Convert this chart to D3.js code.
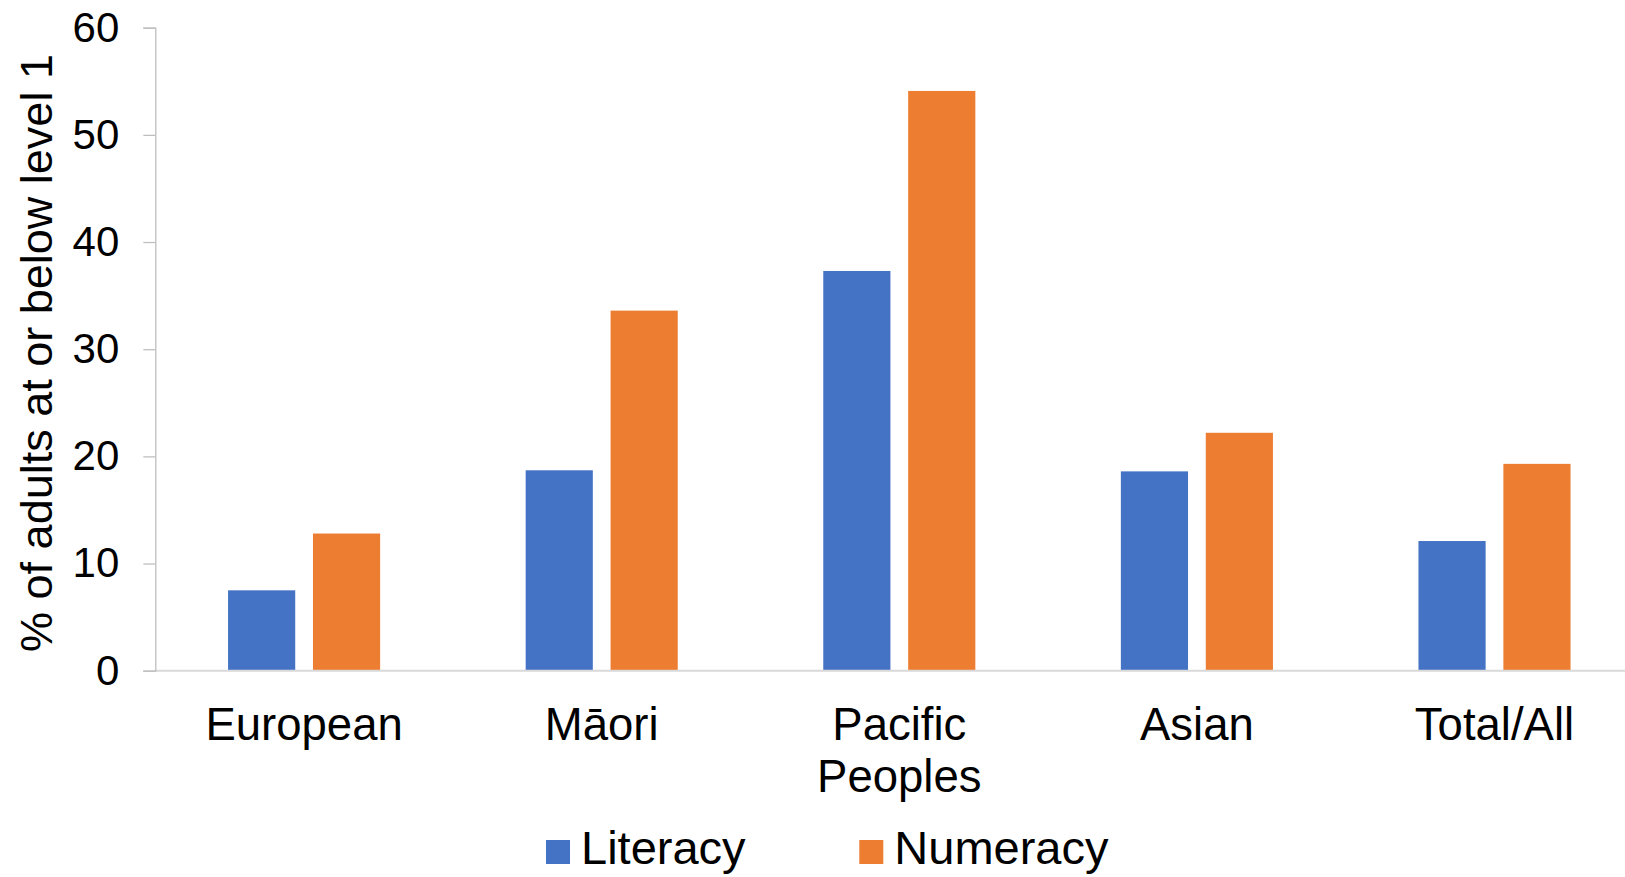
<!DOCTYPE html>
<html>
<head>
<meta charset="utf-8">
<script src="https://cdn.jsdelivr.net/npm/d3@7"></script>
<style>
  html, body { margin: 0; padding: 0; background: #ffffff; overflow: hidden; }
  svg { display: block; font-family: "Liberation Sans", Arial, sans-serif; }
</style>
</head>
<body>
<svg id="chart" width="1625" height="877"></svg>
<script>
// Share of adults at or below level 1, by ethnic group
const categories = ["European", "Māori", "Pacific Peoples", "Asian", "Total/All"];
const seriesNames = ["Literacy", "Numeracy"];
const literacy = [7.5, 18.7, 37.3, 18.6, 12.1];
const numeracy = [12.8, 33.6, 54.1, 22.2, 19.3];
const yTicks = [0, 10, 20, 30, 40, 50, 60];
const colors = ["#4472C4", "#ED7D31"];

const rows = categories.map((c, i) => ({ category: c, values: [literacy[i], numeracy[i]] }));

const svg = d3.select("#chart");
const plot = { left: 155.3, top: 27.7, bottom: 670.7, right: 1643.3 };

const x0 = d3.scaleBand().domain(categories).range([plot.left, plot.right])
  .paddingInner(0.489).paddingOuter(0.2445);
const x1 = d3.scaleBand().domain(seriesNames).range([0, x0.bandwidth()])
  .paddingInner(0.209).paddingOuter(0);
const y = d3.scaleLinear().domain([0, 60]).range([plot.bottom, plot.top]);
const color = d3.scaleOrdinal().domain(seriesNames).range(colors);

// bars
const groups = svg.append("g").selectAll("g").data(rows).join("g")
  .attr("transform", d => `translate(${x0(d.category)},0)`);
groups.selectAll("rect")
  .data(d => d.values.map((v, j) => ({ key: seriesNames[j], value: v })))
  .join("rect")
  .attr("x", d => x1(d.key))
  .attr("width", x1.bandwidth())
  .attr("y", d => y(d.value))
  .attr("height", d => y(0) - y(d.value))
  .attr("fill", d => color(d.key));

// x baseline
svg.append("line")
  .attr("x1", plot.left).attr("x2", 1625)
  .attr("y1", y(0)).attr("y2", y(0))
  .attr("stroke", "#d9d9d9").attr("stroke-width", 2);

// y axis
const yAxis = svg.append("g")
  .attr("transform", `translate(${plot.left},0)`)
  .call(d3.axisLeft(y).tickValues(yTicks).tickSize(12).tickPadding(24).tickFormat(d3.format("d")));
yAxis.select(".domain").attr("stroke", "#bfbfbf").attr("stroke-width", 1.3);
yAxis.selectAll(".tick line").attr("stroke", "#bfbfbf").attr("stroke-width", 1.3);
yAxis.selectAll(".tick text")
  .attr("font-family", "\"Liberation Sans\", Arial, sans-serif")
  .attr("font-size", 42).attr("fill", "#000");

// y axis title
svg.append("text")
  .attr("transform", `translate(52,353) rotate(-90)`)
  .attr("text-anchor", "middle")
  .attr("font-size", 45)
  .attr("fill", "#000")
  .text("% of adults at or below level 1");

// category labels (two-word labels wrap onto two lines)
const labels = svg.append("g").selectAll("text").data(categories).join("text")
  .attr("x", d => x0(d) + x0.bandwidth() / 2)
  .attr("y", 739.5)
  .attr("text-anchor", "middle")
  .attr("font-size", 45.5)
  .attr("fill", "#000");
labels.each(function (d) {
  const words = d === "Pacific Peoples" ? d.split(" ") : [d];
  const t = d3.select(this);
  words.forEach((w, i) => {
    t.append("tspan")
      .attr("x", x0(d) + x0.bandwidth() / 2)
      .attr("dy", i === 0 ? 0 : 52)
      .text(w);
  });
});

// legend
const legendX = [546, 859.3];
const legend = svg.append("g").selectAll("g").data(seriesNames).join("g")
  .attr("transform", (d, i) => `translate(${legendX[i]},840)`);
legend.append("rect").attr("width", 24).attr("height", 24).attr("fill", d => color(d));
legend.append("text")
  .attr("x", 35).attr("y", 24)
  .attr("font-size", 47).attr("fill", "#000")
  .text(d => d);
</script>
</body>
</html>
